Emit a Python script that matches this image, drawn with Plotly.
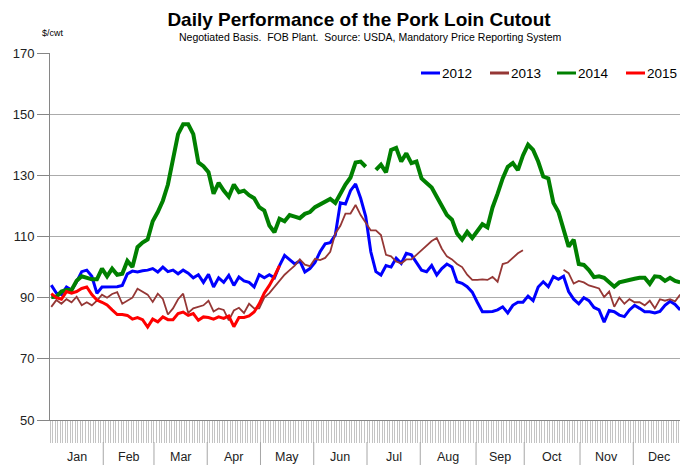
import plotly.graph_objects as go

# ---------------- data (values every 2nd trading day, day index 0..248) ----------------
months = ["Jan", "Feb", "Mar", "Apr", "May", "Jun", "Jul", "Aug", "Sep", "Oct", "Nov", "Dec"]
trading_days = [21, 20, 21, 21, 21, 21, 21, 22, 19, 22, 21, 20]
days = list(range(0, 250, 2))

y2012 = [94.1, 91.5, 91, 93.5, 92.5, 95.2, 98.5, 99, 97, 91.4,
         93.5, 93.5, 93.6, 93.6, 94, 97.8, 98.7, 98.4, 98.8, 99,
         99.5, 98.4, 100, 98.5, 99, 97.8, 99, 98, 96.5, 97.5,
         95, 97.6, 93.5, 96.5, 95, 97.3, 94, 96.8, 95.5, 95,
         93.5, 97.5, 96.5, 97.5, 96.5, 100.5, 103.8, 102.5, 101, 102,
         98.4, 99.5, 101.5, 105, 107.6, 108, 110.5, 121, 120.6, 125,
         127.2, 122.5, 116.5, 105, 98.5, 97.4, 100.5, 100, 102.9, 101.2,
         104.5, 104, 101.5, 99, 98.5, 100.5, 97.4, 99.5, 101, 100,
         95.2, 94.7, 93.6, 91.8, 88.5, 85.4, 85.4, 85.5, 86, 87,
         85, 87.5, 88.5, 88.5, 90.5, 89, 93.5, 95.2, 93.6, 96.9,
         96, 97, 92, 89.5, 88, 90, 89, 86.8, 86, 82,
         85.8, 85.4, 84.3, 83.8, 86, 87.5, 86.5, 85.4, 85.4, 85,
         85.5, 87.5, 88.8, 87.8, 86]

y2013 = [87, 89.2, 88, 89.5, 88.5, 90.3, 87.5, 88.5, 87.5, 89,
         91, 90, 91.2, 91.8, 88, 89, 90, 92.9, 92, 91,
         88.6, 91.3, 89.6, 84.5, 86.5, 89.5, 91.3, 85, 86.5, 87,
         87.5, 89, 85.5, 86.5, 86, 82.6, 85.8, 86.7, 85, 88,
         86.5, 86.5, 90, 91.5, 93.5, 95.5, 97.5, 99, 100.5, 102.5,
         100.8, 100.3, 102.7, 102.3, 103, 105, 111, 113.5, 117.5, 117.5,
         120.3, 117, 114.3, 112, 112, 110.5, 104, 103.5, 101.8, 101.2,
         102.5, 102.5, 104, 105.5, 106.7, 108.5, 109.5, 106, 103.5, 102.5,
         101, 100, 97.5, 95.8, 95.8, 96, 95.8, 96.8, 95.2, 101,
         101.5, 103, 104.5, 105.5, None, None, None, None, None, None,
         None, 99.1, 98, 94.6, 95.5, 95, 94, 93.5, 93, 90.2,
         92, 87, 90, 88, 89.5, 88.5, 88.5, 87.5, 89, 86.5,
         89.5, 89, 89.5, 88.8, 91]

y2014 = [90.2, 90.3, 92, 92.5, 92.5, 95.5, 97, 96.5, 96, 96,
         99.5, 97, 99.5, 97.5, 97.8, 102, 100, 106.5, 108, 109,
         115, 118, 121.7, 127, 134.8, 143.5, 146.7, 146.7, 143.5, 134.2,
         133, 131, 124, 127.5, 125, 123, 127, 124.5, 125, 123.5,
         122.5, 119.6, 118.5, 113.6, 111.4, 115.8, 115, 117, 116.5, 116,
         117.4, 118, 119.6, 120.5, 121.5, 122.3, 121, 124, 127, 129.3,
         134.2, 134.5, 132.8, None, 131.8, 133.5, 131, 138.3, 139, 134.5,
         137.2, 134, 134.5, 129, 127.5, 126, 123, 120, 117, 115.5,
         111, 109, 111.5, 109.5, 112, 114, 113, 119.5, 124, 129,
         132.8, 134, 131.7, 136.5, 140, 138.3, 134.5, 129.6, 129, 121,
         118, 112, 106.7, 109, 101, 100.7, 99, 96.7, 97, 96.5,
         95, 93.6, 95, 95.5, 96, 96.2, 96.5, 96.5, 94.5, 97,
         96.8, 95.5, 96.5, 95.5, 95]

y2015 = [91.3, 90, 89.5, 92, 91.5, 92, 93, 93.5, 91, 89.2,
         88.5, 87.6, 86, 84.5, 84.5, 84.2, 83, 83.5, 82.8, 80.4,
         83, 82.1, 83.7, 82.8, 82.8, 84.8, 85.3, 84.2, 84.8, 82.6,
         83.7, 83.5, 83, 83.7, 83.2, 84, 80.5, 83.5, 83.5, 84,
         85.3, 88, 91.5, 94, 97, 100.5]

series = [
    ("2012", y2012, "#0000FF", 3),
    ("2013", y2013, "#953735", 1.8),
    ("2014", y2014, "#008000", 4),
    ("2015", y2015, "#FF0000", 3),
]

# The page body has an 8px margin: figure coords = screen coords - 8
OFF = 8
W, H = 688 - OFF, 465 - OFF
PL, PR, PT, PB = 50, 684, 53, 420   # plot area in screen pixels
PW, PH = PR - PL, PB - PT


def px(sx):
    return (sx - PL) / PW


def py(sy):
    return (PB - sy) / PH


fig = go.Figure()
for name, vals, color, w in series:
    fig.add_trace(go.Scatter(x=days[:len(vals)], y=vals, mode="lines", name=name,
                             line=dict(color=color, width=w), connectgaps=False,
                             showlegend=False))

N = sum(trading_days)
bounds = [0]
for n in trading_days:
    bounds.append(bounds[-1] + n)

shapes = []
annotations = []
for i, m in enumerate(months):
    annotations.append(dict(x=(bounds[i] + bounds[i + 1]) / 2 - 0.5, y=py(457), xref="x", yref="paper",
                            text=m, showarrow=False,
                            font=dict(size=12.5, color="#222222", family="Liberation Sans"),
                            xanchor="center", yanchor="middle"))
for b in bounds[1:-1]:
    shapes.append(dict(type="line", xref="x", yref="paper", x0=b - 0.5, x1=b - 0.5,
                       y0=py(442), y1=py(466), line=dict(color="#A6A6A6", width=1)))

leg_x = [421, 490, 557, 626]
for (name, vals, color, w), lx in zip(series, leg_x):
    shapes.append(dict(type="line", xref="paper", yref="paper", x0=px(lx), x1=px(lx + 19),
                       y0=py(73), y1=py(73), line=dict(color=color, width=3)))
    annotations.append(dict(x=px(lx + 19), y=py(73), xref="paper", yref="paper", text=name,
                            showarrow=False, xanchor="left", yanchor="middle",
                            font=dict(size=13.5, color="#000000", family="Liberation Sans")))

annotations.append(dict(x=px(370), y=py(37), xref="paper", yref="paper", xanchor="center", yanchor="middle",
                        text="Negotiated Basis.  FOB Plant.  Source: USDA, Mandatory Price Reporting System",
                        showarrow=False, font=dict(size=10.5, family="Liberation Sans", color="#000000")))
annotations.append(dict(x=px(40), y=py(33), xref="paper", yref="paper", xanchor="left", yanchor="middle",
                        text="$/cwt", showarrow=False,
                        font=dict(size=9, family="Liberation Sans", color="#000000")))

fig.update_layout(
    width=W, height=H,
    margin=dict(l=PL - OFF, r=W - (PR - OFF), t=PT - OFF, b=H - (PB - OFF), pad=0),
    paper_bgcolor="white", plot_bgcolor="white",
    title=dict(text="<b>Daily Performance of the Pork Loin Cutout</b>",
               xref="container", yref="container",
               x=(359 - OFF) / W, xanchor="center", y=1 - (19 - OFF) / H, yanchor="middle",
               font=dict(size=19, family="Liberation Sans", color="#000000")),
    shapes=shapes,
    annotations=annotations,
    xaxis=dict(range=[-0.5, N - 0.5], tickvals=[i - 0.5 for i in range(N + 1)],
               ticktext=[""] * (N + 1), ticks="outside", ticklen=22, tickcolor="#C4C4C4", tickwidth=1,
               showgrid=False, showline=True, linecolor="#868686", linewidth=1, zeroline=False),
    yaxis=dict(range=[50, 170], dtick=20, tick0=50, ticks="outside", ticklen=12, tickcolor="#868686",
               showgrid=True, gridcolor="#ABABAB", gridwidth=1, showline=True, linecolor="#868686",
               zeroline=False, tickfont=dict(size=13, family="Liberation Sans", color="#222222")),
)
fig.write_html("out.html")
